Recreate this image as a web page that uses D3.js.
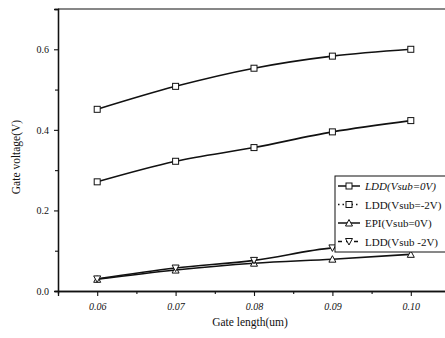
<!DOCTYPE html>
<html>
<head>
<meta charset="utf-8">
<script src="https://cdn.jsdelivr.net/npm/d3@7"></script>
<style>
  body { margin: 0; background: #fff; }
  svg { display: block; }
  text { font-family: "Liberation Serif", "DejaVu Serif", serif; fill: #111; }
</style>
</head>
<body>
<div id="canvas"></div>
<script>
// gate length (um) on x, gate voltage (V) on y
var gateLength = [0.06, 0.07, 0.08, 0.09, 0.10];
var lddVsub0 = [0.451, 0.508, 0.553, 0.583, 0.600];
var lddVsubM2 = [0.271, 0.322, 0.356, 0.395, 0.423];
var epiVsub0 = [0.029, 0.052, 0.069, 0.079, 0.091];
var lddVsubM2b = [0.030, 0.057, 0.076, 0.107, 0.116];
var seriesNames = ['LDD(Vsub=0V)', 'LDD(Vsub=-2V)', 'EPI(Vsub=0V)', 'LDD(Vsub -2V)'];
var xTicks = [0.06, 0.07, 0.08, 0.09, 0.10];
var yTicks = [0.0, 0.2, 0.4, 0.6];

var W = 445, H = 338;
var pad = {left: 58, right: -5, top: 9, bottom: 47};

var svg = d3.select('#canvas').append('svg').attr('width', W).attr('height', H);

var x = d3.scaleLinear().domain([0.055, 0.105]).range([pad.left, W - pad.right]);
var y = d3.scaleLinear().domain([0, 0.7]).range([H - pad.bottom, pad.top]);

//frame: top line and left/bottom axes
svg.append('line').attr('x1', x(0.055)).attr('x2', x(0.105)).attr('y1', y(0.7)).attr('y2', y(0.7))
  .attr('stroke', '#111').attr('stroke-width', 1.2);

var xAxis = svg.append('g').attr('transform', 'translate(0,' + y(0) + ')')
  .call(d3.axisBottom(x).tickValues(xTicks).tickSize(5).tickFormat(d3.format('.2f')));
svg.append('g').attr('transform', 'translate(0,' + y(0) + ')')
  .call(d3.axisBottom(x).tickValues([0.065, 0.075, 0.085, 0.095]).tickSize(3).tickFormat(''));
var yAxis = svg.append('g').attr('transform', 'translate(' + x(0.055) + ',0)')
  .call(d3.axisLeft(y).tickValues(yTicks).tickSize(4).tickFormat(d3.format('.1f')));
svg.append('g').attr('transform', 'translate(' + x(0.055) + ',0)')
  .call(d3.axisLeft(y).tickValues([0.1, 0.3, 0.5]).tickSize(3).tickFormat(''));

svg.selectAll('.domain').attr('stroke', '#111').attr('stroke-width', 1.3);
svg.selectAll('.tick line').attr('stroke', '#111').attr('stroke-width', 1.1);
xAxis.selectAll('text').attr('font-size', 10).attr('dy', '1.1em').attr('font-style', 'italic');
yAxis.selectAll('text').attr('font-size', 10).attr('dx', '-0.2em');
svg.selectAll('.tick text').style('font-family', '"Liberation Serif", serif').attr('fill', '#111');

svg.append('text').attr('x', 250).attr('y', 326).attr('text-anchor', 'middle')
  .attr('font-size', 11.5).text('Gate length(um)');
svg.append('text').attr('transform', 'translate(20,157) rotate(-90)').attr('text-anchor', 'middle')
  .attr('font-size', 11.5).text('Gate voltage(V)');

//curves
var all = [lddVsub0, lddVsubM2, epiVsub0, lddVsubM2b];
var shapes = ['square', 'square', 'up', 'down'];
var line = d3.line().x(function(d, i){ return x(gateLength[i]); }).y(function(d){ return y(d); })
  .curve(d3.curveMonotoneX);

function marker(g, kind, cx, cy){
  if (kind === 'square') {
    g.append('rect').attr('x', cx - 3).attr('y', cy - 3).attr('width', 6).attr('height', 6)
      .attr('fill', '#fff').attr('stroke', '#111').attr('stroke-width', 1);
  } else {
    var s = kind === 'up' ? -1 : 1;
    var pts = [[cx, cy + s * 3.5], [cx - 3.5, cy - s * 3], [cx + 3.5, cy - s * 3]];
    g.append('path').attr('d', 'M' + pts.join('L') + 'Z')
      .attr('fill', '#fff').attr('stroke', '#111').attr('stroke-width', 1);
  }
}

all.forEach(function(vals, k){
  svg.append('path').datum(vals).attr('d', line).attr('fill', 'none')
    .attr('stroke', '#111').attr('stroke-width', 1.6);
});
all.forEach(function(vals, k){
  var g = svg.append('g');
  vals.forEach(function(v, i){ marker(g, shapes[k], x(gateLength[i]), y(v)); });
});

//legend
var lg = svg.append('g').attr('transform', 'translate(335,176)');
lg.append('rect').attr('x', 0).attr('y', 0).attr('width', 120).attr('height', 76)
  .attr('fill', '#fff').attr('stroke', '#111').attr('stroke-width', 1);
var dashes = [null, '1.5,3', null, '4,4'];
seriesNames.forEach(function(name, k){
  var ry = 10 + k * 18.5;
  lg.append('line').attr('x1', 3).attr('x2', 25).attr('y1', ry).attr('y2', ry)
    .attr('stroke', '#111').attr('stroke-width', 1.5).attr('stroke-dasharray', dashes[k]);
  marker(lg, shapes[k], 14, ry);
  lg.append('text').attr('x', 30).attr('y', ry + 4).attr('font-size', 11)
    .attr('font-style', k === 0 ? 'italic' : 'normal').text(name);
});
</script>
</body>
</html>
